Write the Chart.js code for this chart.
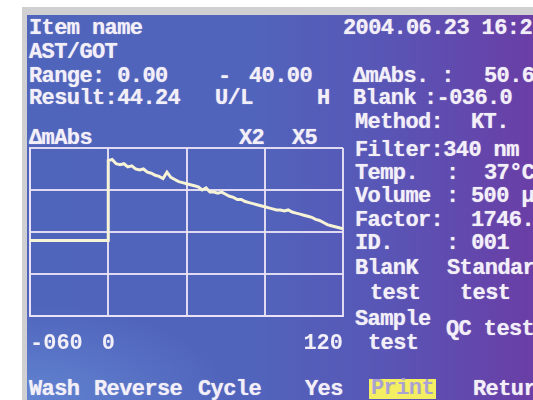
<!DOCTYPE html>
<html>
<head>
<meta charset="utf-8">
<script src="https://cdn.jsdelivr.net/npm/chart.js@4.4.0/dist/chart.umd.min.js"></script>
<style>
  html, body { margin: 0; padding: 0; background: #ffffff; }
  #frame { position: absolute; left: 22px; top: 7px; width: 511px; height: 393px; background: #d0d0d2; }
  #screen {
    position: absolute; left: 27px; top: 15px; width: 506px; height: 385px; overflow: hidden;
    background:
      radial-gradient(ellipse 40% 25% at 0% 100%, rgba(120,170,235,0.45), rgba(120,170,235,0) 100%),
      linear-gradient(90deg, #4f64bb 0%, #5164bc 45%, #5856b6 70%, #6a3ea6 100%);
  }
  .t {
    position: absolute; white-space: pre; color: #f3eff8;
    font-family: "Liberation Mono", monospace; font-weight: bold; font-size: 22px; line-height: 20px;
    letter-spacing: -0.6px;
    text-shadow: 0 0 1px rgba(255,255,255,0.7);
  }
  .hl { background: #f3ee62; color: #a9a2d2; text-shadow: none; padding: 0 2px; }
  #c { position: absolute; left: 0; top: 0; }
</style>
</head>
<body>
<div id="frame"></div>
<div id="screen"></div>
<div id="texts"></div>
<canvas id="c" width="533" height="400"></canvas>
<script>
// reaction curve (arbitrary mAbs units, grid of 0..160)
const blankX = [-40, 0];
const blankY = [72, 72];
const curveX = [0, 2, 4, 6, 8, 10, 12, 14, 16, 18, 20, 22, 24, 26, 28, 30, 32, 34, 36, 38, 40,
  42, 44, 46, 48, 50, 52, 54, 56, 58, 60, 62, 64, 66, 68, 70, 72, 74, 76, 78, 80,
  82, 84, 86, 88, 90, 92, 94, 96, 98, 100, 102, 104, 106, 108, 110, 112, 114, 116, 118, 120];
const curveY = [148, 149, 145, 144, 145, 142, 143, 140, 139, 140, 137, 136, 134, 133, 131, 137, 132, 130, 128, 127, 126,
  125, 124, 123, 120, 122, 118, 118, 117, 118, 116, 114, 113, 111, 111, 109, 108, 107, 106, 105, 104,
  103, 102, 101, 101, 100, 101, 99, 98, 97, 96, 95, 94, 92, 91, 89, 87, 86, 85, 84, 83];
const xTicks = [-40, 0, 40, 80, 120];
const xTickLabels = ["-060", "0", "", "", "120"];
const yTicks = [0, 40, 80, 120, 160];

// screen text: [text, left, cap top]
const LINES = [
  ["Item name", 29, 20],
  ["2004.06.23 16:2", 343, 20],
  ["AST/GOT", 29, 44],
  ["Range: 0.00", 29, 68],
  ["-", 218, 68],
  ["40.00", 249, 68],
  ["\u0394mAbs. :", 353, 68],
  ["50.6", 484, 68],
  ["Result:44.24", 29, 90],
  ["U/L", 215, 90],
  ["H", 317, 90],
  ["Blank", 353, 90],
  [":-036.0", 424, 90],
  ["Method:", 355, 114],
  ["KT.", 471, 114],
  ["\u0394mAbs", 29, 130],
  ["X2", 239, 130],
  ["X5", 292, 130],
  ["Filter:340 nm", 355, 142],
  ["Temp.", 355, 165],
  [":", 446, 165],
  ["37\u00b0C", 484, 165],
  ["Volume", 355, 188],
  [":", 446, 188],
  ["500 \u03bc", 471, 188],
  ["Factor:", 355, 212],
  ["1746.", 471, 212],
  ["ID.", 355, 235],
  [": 001", 446, 235],
  ["BlanK", 355, 260],
  ["Standar", 447, 260],
  ["test", 370, 285],
  ["test", 460, 285],
  ["Sample", 355, 311],
  ["QC test", 446, 321],
  ["test", 368, 335],
  ["Wash", 29, 381],
  ["Reverse", 94, 381],
  ["Cycle", 198, 381],
  ["Yes", 305, 381],
  ["Retur", 473, 381],
];

const holder = document.getElementById("texts");
holder.innerHTML = LINES.map(([s, x, y]) =>
  `<div class="t" style="left:${x}px;top:${y - 1}px">${s}</div>`).join("") +
  `<div class="t hl" style="left:369px;top:379px">Print</div>`;

const GRID = "rgba(236,228,246,0.92)";
const FONT = { family: "Liberation Mono", size: 22, weight: "bold", lineHeight: 1 };

new Chart(document.getElementById("c"), {
  type: "line",
  data: {
    datasets: [
      {
        data: blankX.map((x, i) => ({ x, y: blankY[i] })).concat(curveX.map((x, i) => ({ x, y: curveY[i] }))),
        borderColor: "#f6f3d6",
        borderWidth: 3,
        pointRadius: 0,
        tension: 0,
      },
    ],
  },
  options: {
    animation: false,
    responsive: false,
    layout: { padding: { left: 30, top: 148, right: 190, bottom: 30 } },
    plugins: { legend: { display: false }, tooltip: { enabled: false } },
    scales: {
      x: {
        type: "linear",
        min: -40,
        max: 120,
        afterBuildTicks: (s) => { s.ticks = xTicks.map((v) => ({ value: v })); },
        ticks: {
          color: "#f3eff8",
          font: FONT,
          padding: 16,
          align: "inner",
          maxRotation: 0,
          autoSkip: false,
          callback: (v) => xTickLabels[xTicks.indexOf(v)] ?? "",
        },
        grid: { color: GRID, lineWidth: 2, drawTicks: false },
        border: { color: GRID, width: 2 },
      },
      y: {
        min: 0,
        max: 160,
        afterBuildTicks: (s) => { s.ticks = yTicks.map((v) => ({ value: v })); },
        ticks: { display: false },
        grid: { color: GRID, lineWidth: 2, drawTicks: false },
        border: { color: GRID, width: 2 },
      },
    },
  },
});
</script>
</body>
</html>
